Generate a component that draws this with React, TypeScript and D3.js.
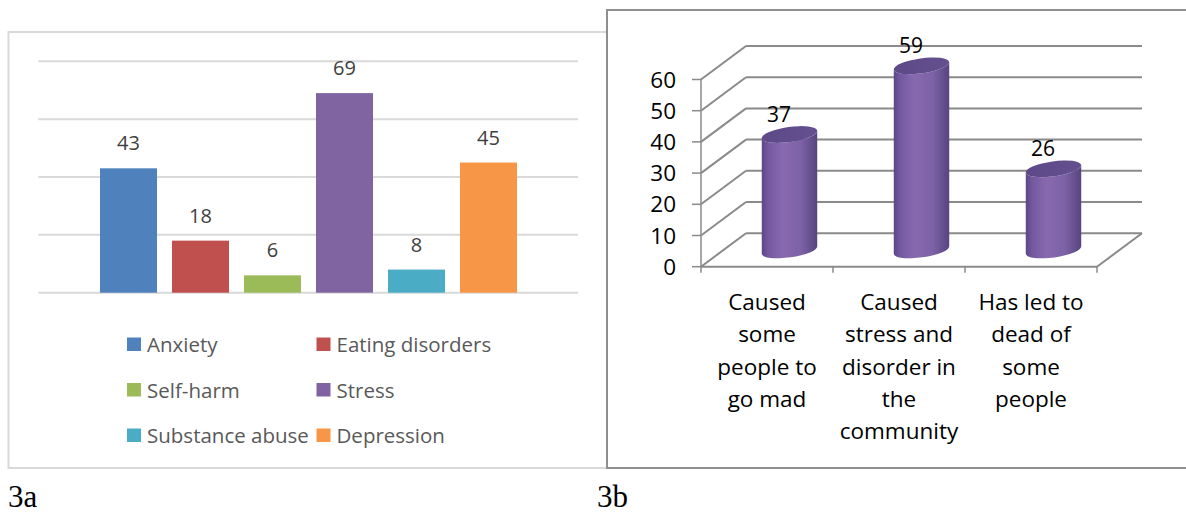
import React from 'react';
import * as d3 from 'd3';

// ---------- Data ----------
const leftSeries = ['Anxiety', 'Eating disorders', 'Self-harm', 'Stress', 'Substance abuse', 'Depression'];
const leftValues = [43, 18, 6, 69, 8, 45];
const leftColors = ['#4f81bd', '#c0504d', '#9bbb59', '#8064a2', '#4bacc6', '#f79646'];
const leftTicks = [0, 20, 40, 60, 80];

const rightCategories = [
  'Caused some people to go mad',
  'Caused stress and disorder in the community',
  'Has led to dead of some people',
];
const rightCategoryLines = [
  ['Caused', 'some', 'people to', 'go mad'],
  ['Caused', 'stress and', 'disorder in', 'the', 'community'],
  ['Has led to', 'dead of', 'some', 'people'],
];
const rightValues = [37, 59, 26];
const rightTicks = [0, 10, 20, 30, 40, 50, 60];

const FONT = "'Open Sans', sans-serif";

export default function App() {
  // ----- left chart scales -----
  const yL = d3.scaleLinear().domain([0, 80]).range([292.7, 61.3]);
  const xL = d3
    .scaleBand<string>()
    .domain(leftSeries)
    .range([92.5, 524.5])
    .paddingInner(15 / 72)
    .paddingOuter(7.5 / 72);

  // ----- right chart scales -----
  const yR = d3.scaleLinear().domain([0, 60]).range([266.7, 79.5]);
  const xR = d3.scaleBand<string>().domain(rightCategories).range([701, 1097]);
  const DX = 45;
  const DY = -33.5;
  const backRight = 1142;
  const gridColor = '#8a8a8a';

  const rx = 28;
  const ry = 7.5;
  const rot = -8;
  const th = (rot * Math.PI) / 180;
  const ex = rx * Math.cos(th);
  const ey = rx * Math.sin(th);

  const legendRows = [0, 1, 2];
  const legendCols = [127, 316.5];
  const legendBase = [352, 397.5, 443];

  return (
    <svg
      width={1186}
      height={519}
      style={{ position: 'absolute', left: 0, top: 0, background: '#fff' }}
    >
      <defs>
        <linearGradient id="cyl" x1="0" x2="1" y1="0" y2="0">
          <stop offset="0%" stopColor="#5b4784" />
          <stop offset="12%" stopColor="#7559a0" />
          <stop offset="38%" stopColor="#8769b0" />
          <stop offset="70%" stopColor="#7d62a6" />
          <stop offset="100%" stopColor="#574480" />
        </linearGradient>
        <linearGradient id="cyltop" x1="0" x2="1" y1="0" y2="0">
          <stop offset="0%" stopColor="#5d4988" />
          <stop offset="100%" stopColor="#64508f" />
        </linearGradient>
      </defs>

      {/* ===== Left chart (3a) ===== */}
      <rect x={8.5} y={32} width={600} height={436} fill="#fff" stroke="#d9d9d9" strokeWidth={2} />
      {leftTicks.map((t) => (
        <line key={t} x1={38.3} x2={578} y1={yL(t)} y2={yL(t)} stroke="#d9d9d9" strokeWidth={2} />
      ))}
      {leftSeries.map((s, i) => (
        <g key={s}>
          <rect
            x={xL(s)}
            y={yL(leftValues[i])}
            width={xL.bandwidth()}
            height={yL(0) - yL(leftValues[i])}
            fill={leftColors[i]}
          />
          <text
            x={(xL(s) as number) + xL.bandwidth() / 2}
            y={yL(leftValues[i]) - 18}
            textAnchor="middle"
            fontFamily={FONT}
            fontSize={20}
            fill="#404040"
          >
            {leftValues[i]}
          </text>
        </g>
      ))}
      {leftSeries.map((s, i) => {
        const row = Math.floor(i / 2);
        const col = i % 2;
        const x = legendCols[col];
        const base = legendBase[row];
        return (
          <g key={'lg' + s}>
            <rect x={x} y={base - 14.5} width={14} height={13.5} fill={leftColors[i]} />
            <text x={x + 20} y={base} fontFamily={FONT} fontSize={20.5} fill="#595959">
              {s}
            </text>
          </g>
        );
      })}
      <text x={8} y={507} fontFamily="'Liberation Serif', 'Times New Roman', serif" fontSize={31} fill="#000">
        3a
      </text>

      {/* ===== Right chart (3b) ===== */}
      <rect x={607} y={10} width={620} height={458} fill="#fff" stroke="#8f8f8f" strokeWidth={2} />
      {/* back wall gridlines and left side wall */}
      {rightTicks.map((t) => (
        <g key={'rg' + t}>
          <line x1={701} y1={yR(t)} x2={701 + DX} y2={yR(t) + DY} stroke={gridColor} strokeWidth={2} />
          <line x1={701 + DX} y1={yR(t) + DY} x2={backRight} y2={yR(t) + DY} stroke={gridColor} strokeWidth={2} />
          <line x1={692} y1={yR(t)} x2={701} y2={yR(t)} stroke={gridColor} strokeWidth={1.5} />
          <text
            x={676}
            y={yR(t)}
            dy="0.36em"
            textAnchor="end"
            fontFamily={FONT}
            fontSize={22.5}
            fill="#000"
          >
            {t}
          </text>
        </g>
      ))}
      {/* floor */}
      <line x1={701} y1={yR(0)} x2={1097} y2={yR(0)} stroke={gridColor} strokeWidth={2} />
      <line x1={1097} y1={yR(0)} x2={backRight} y2={yR(0) + DY} stroke={gridColor} strokeWidth={2} />
      {/* front vertical axis */}
      <line x1={701} y1={yR(60)} x2={701} y2={yR(0)} stroke={gridColor} strokeWidth={1.5} />
      {/* category ticks */}
      {[...rightCategories.map((c) => xR(c) as number), 1097].map((x, i) => (
        <line key={'ct' + i} x1={x} x2={x} y1={yR(0)} y2={yR(0) + 6} stroke={gridColor} strokeWidth={1.5} />
      ))}
      {/* cylinders */}
      {rightCategories.map((c, i) => {
        const fx = (xR(c) as number) + xR.bandwidth() / 2;
        const cx = fx + DX / 2;
        const yb = yR(0) + DY / 2;
        const yt = yR(rightValues[i]) + DY / 2;
        const body =
          `M${cx - ex},${yt - ey} L${cx - ex},${yb - ey} ` +
          `A${rx},${ry} ${rot} 0 0 ${cx + ex},${yb + ey} ` +
          `L${cx + ex},${yt + ey} ` +
          `A${rx},${ry} ${rot} 0 1 ${cx - ex},${yt - ey} Z`;
        return (
          <g key={'cy' + c}>
            <path d={body} fill="url(#cyl)" />
            <ellipse
              cx={cx}
              cy={yt}
              rx={rx}
              ry={ry}
              transform={`rotate(${rot},${cx},${yt})`}
              fill="url(#cyltop)"
            />
            <text
              x={fx + 12}
              y={yt - 13}
              textAnchor="middle"
              fontFamily={FONT}
              fontSize={21}
              fill="#000"
            >
              {rightValues[i]}
            </text>
          </g>
        );
      })}
      {/* category labels */}
      {rightCategories.map((c, i) => {
        const fx = (xR(c) as number) + xR.bandwidth() / 2;
        return (
          <text key={'cl' + c} textAnchor="middle" fontFamily={FONT} fontSize={22.5} fill="#000">
            {rightCategoryLines[i].map((ln, j) => (
              <tspan key={j} x={fx} y={310 + j * 32.3}>
                {ln}
              </tspan>
            ))}
          </text>
        );
      })}
      <text x={597} y={507} fontFamily="'Liberation Serif', 'Times New Roman', serif" fontSize={31} fill="#000">
        3b
      </text>
    </svg>
  );
}
